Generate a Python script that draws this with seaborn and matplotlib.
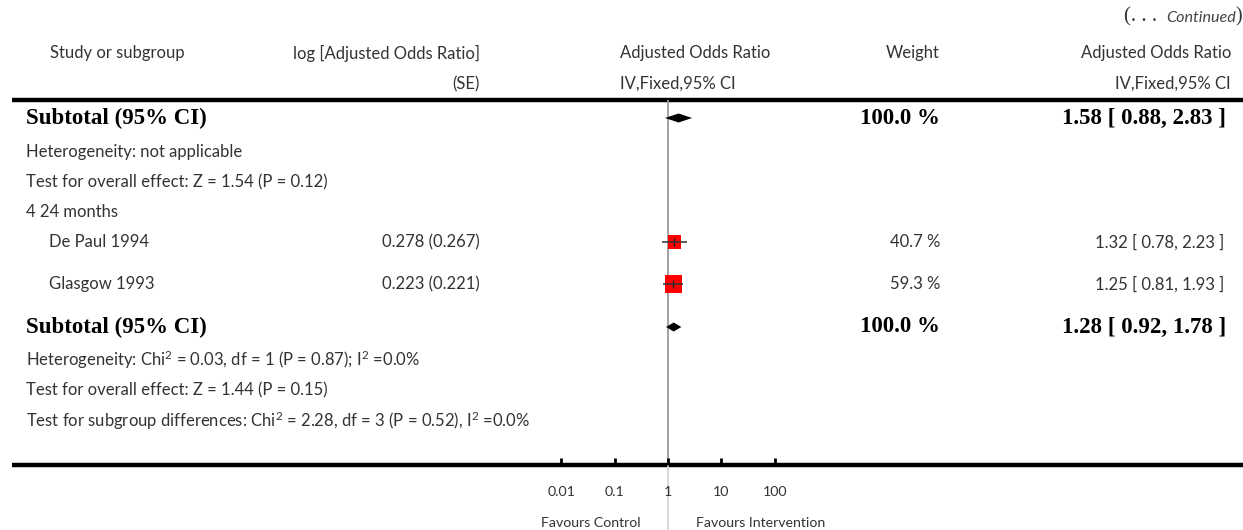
import matplotlib
matplotlib.use('Agg')
import matplotlib.pyplot as plt
import seaborn as sns
import pandas as pd

# Forest plot data (continued page)
studies = ['De Paul 1994', 'Glasgow 1993']
log_or_se = ['0.278 (0.267)', '0.223 (0.221)']
study_or = [1.32, 1.25]
study_lo = [0.78, 0.81]
study_hi = [2.23, 1.93]
study_weight = [40.7, 59.3]

subtotal_or = [1.58, 1.28]
subtotal_lo = [0.88, 0.92]
subtotal_hi = [2.83, 1.78]

axis_ticks = [0.01, 0.1, 1, 10, 100]
axis_labels = ['0.01', '0.1', '1', '10', '100']

# layout in pixels (figure is 1243 x 530)
W, H = 1243, 530
X_ONE, PX_DECADE = 668, 53.3
Y_ROWS = {'sub1': 118, 'het1': 152, 'test1': 182, 'group': 212,
          'study0': 242, 'study1': 284, 'sub2': 327,
          'het2': 360, 'test2': 390, 'diff': 421}
Y_AXIS = 465

sns.set_theme(style='white')
plt.rcParams['font.family'] = ['Lato', 'DejaVu Sans']
plt.rcParams['mathtext.fontset'] = 'custom'
plt.rcParams['mathtext.rm'] = 'Lato'
plt.rcParams['mathtext.it'] = 'Lato:italic'
plt.rcParams['mathtext.default'] = 'regular'

TXT = '#333333'
LIGHT = dict(fontsize=12, fontweight='normal', color=TXT)
BOLD = dict(fontsize=16.5, fontweight='bold', family='Liberation Serif', color='black')
SMALL = dict(fontsize=10.2, fontweight='normal', color=TXT)

fig = plt.figure(figsize=(W / 100, H / 100), dpi=100)
ax_txt = fig.add_axes([0, 0, 1, 1])
ax_txt.set_xlim(0, W)
ax_txt.set_ylim(H, 0)
ax_txt.axis('off')

ax = fig.add_axes([0, 0, 1, 1], sharey=ax_txt)
ax.set_xscale('log')
ax.set_xlim(10 ** ((0 - X_ONE) / PX_DECADE), 10 ** ((W - X_ONE) / PX_DECADE))
ax.axis('off')
ax.patch.set_alpha(0)

# header
ax_txt.text(1242, 17, ')', ha='right', va='center', family='Liberation Serif', fontsize=14.5, color=TXT)
ax_txt.text(1236, 18, 'Continued', ha='right', va='center', fontsize=11.6, fontstyle='italic', color='#444444')
ax_txt.text(1157, 17, '(. . .', ha='right', va='center', family='Liberation Serif', fontsize=15, color=TXT)

ax_txt.text(117, 53, 'Study or subgroup', ha='center', va='center', **LIGHT)
ax_txt.text(480, 53, 'log [Adjusted Odds Ratio]', ha='right', va='center', **LIGHT)
ax_txt.text(480, 84, '(SE)', ha='right', va='center', **LIGHT)
ax_txt.text(620, 53, 'Adjusted Odds Ratio', ha='left', va='center', **LIGHT)
ax_txt.text(620, 84, 'IV,Fixed,95% CI', ha='left', va='center', **LIGHT)
ax_txt.text(940, 53, 'Weight', ha='right', va='center', **LIGHT)
ax_txt.text(1231, 53, 'Adjusted Odds Ratio', ha='right', va='center', **LIGHT)
ax_txt.text(1231, 84, 'IV,Fixed,95% CI', ha='right', va='center', **LIGHT)
ax_txt.plot([12, W], [100, 100], color='black', lw=3.2, solid_capstyle='butt')

# left column text
ax_txt.text(26, Y_ROWS['sub1'], 'Subtotal (95% CI)', ha='left', va='center', **BOLD)
ax_txt.text(26, Y_ROWS['het1'], 'Heterogeneity: not applicable', ha='left', va='center', **LIGHT)
ax_txt.text(26, Y_ROWS['test1'], 'Test for overall effect: Z = 1.54 (P = 0.12)', ha='left', va='center', **LIGHT)
ax_txt.text(26, Y_ROWS['group'], '4 24 months', ha='left', va='center', **LIGHT)
ax_txt.text(26, Y_ROWS['sub2'], 'Subtotal (95% CI)', ha='left', va='center', **BOLD)
ax_txt.text(26, Y_ROWS['het2'], r'Heterogeneity: Chi$^{2}$ = 0.03, df = 1 (P = 0.87); I$^{2}$ =0.0%',
            ha='left', va='center', **LIGHT)
ax_txt.text(26, Y_ROWS['test2'], 'Test for overall effect: Z = 1.44 (P = 0.15)', ha='left', va='center', **LIGHT)
ax_txt.text(26, Y_ROWS['diff'], r'Test for subgroup differences: Chi$^{2}$ = 2.28, df = 3 (P = 0.52), I$^{2}$ =0.0%',
            ha='left', va='center', **LIGHT)

study_y = [Y_ROWS['study0'], Y_ROWS['study1']]
sub_y = [Y_ROWS['sub1'], Y_ROWS['sub2']]

for i, name in enumerate(studies):
    y = study_y[i]
    ax_txt.text(49, y, name, ha='left', va='center', **LIGHT)
    ax_txt.text(480, y, log_or_se[i], ha='right', va='center', **LIGHT)
    ax_txt.text(940, y, '{:.1f} %'.format(study_weight[i]), ha='right', va='center', **LIGHT)
    ax_txt.text(1224, y, '{:.2f} [ {:.2f}, {:.2f} ]'.format(study_or[i], study_lo[i], study_hi[i]),
                ha='right', va='center', **LIGHT)

for i, y in enumerate(sub_y):
    ax_txt.text(940, y, '100.0 %', ha='right', va='center', **BOLD)
    ax_txt.text(1226, y, '{:.2f} [ {:.2f}, {:.2f} ]'.format(subtotal_or[i], subtotal_lo[i], subtotal_hi[i]),
                ha='right', va='center', **BOLD)

# null line
ax.vlines(1, 100, Y_AXIS, color='#9a9a9a', lw=1.3, zorder=1)
ax.vlines(1, Y_AXIS, H, color='#d6d6d6', lw=1.3, zorder=1)

# study squares, sized by weight
df = pd.DataFrame({'study': studies, 'or': study_or, 'lo': study_lo, 'hi': study_hi,
                   'weight': study_weight, 'y': study_y})
sns.scatterplot(data=df, x='or', y='y', size='weight', sizes=(90, 150), marker='s',
                color='#ff0000', edgecolor='none', legend=False, ax=ax, zorder=2)
ax.hlines(df['y'], df['lo'], df['hi'], color='#333333', lw=1.1, zorder=3)
ax.scatter(df['or'], df['y'], marker='|', s=40, color='#222222', linewidths=1.0, zorder=4)

# subtotal diamonds
for est, lo, hi, y in zip(subtotal_or, subtotal_lo, subtotal_hi, sub_y):
    ax.fill([lo, est, hi, est], [y, y - 4.5, y, y + 4.5], color='black', lw=0, zorder=3)

# bottom axis
ax_txt.plot([12, W], [Y_AXIS, Y_AXIS], color='black', lw=3.2, solid_capstyle='butt')
ax.vlines(axis_ticks, Y_AXIS - 7, Y_AXIS, color='black', lw=2, zorder=3)
for t, lab in zip(axis_ticks, axis_labels):
    ax.text(t, 492, lab, ha='center', va='center', **SMALL)
ax_txt.text(641, 523, 'Favours Control', ha='right', va='center', **SMALL)
ax_txt.text(696, 523, 'Favours Intervention', ha='left', va='center', **SMALL)

fig.savefig('out.png', dpi=100)
